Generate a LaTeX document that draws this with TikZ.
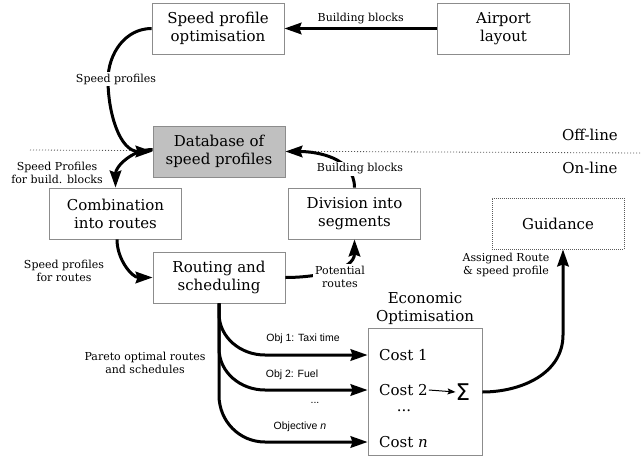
\documentclass[tikz,border=0pt]{standalone}
\usepackage{fontspec}
\setmainfont{DejaVu Serif}
\newfontfamily\labsans{Liberation Sans}
\newfontfamily\symfont{DejaVu Sans}
\usetikzlibrary{arrows.meta,calc}
\definecolor{boxgray}{RGB}{140,140,140}
\definecolor{dbfill}{RGB}{192,192,192}
\definecolor{dotgray}{RGB}{90,90,90}
\begin{document}
\begin{tikzpicture}[x=1pt,y=-1pt,
  main/.style={font=\fontsize{15}{18}\selectfont, align=center, inner sep=1pt},
  box/.style={main, draw=boxgray, line width=0.8pt, minimum width=132, minimum height=51, inner sep=0pt},
  flow/.style={line width=3pt, -{Stealth[length=17pt,width=11.5pt,inset=2pt]}},
  thinflow/.style={line width=1pt, -{Stealth[length=8pt,width=6pt,inset=1.5pt]}},
  lab/.style={font=\fontsize{11}{13}\selectfont, align=center, inner sep=1pt},
  gap/.style={lab, fill=white, inner sep=2pt},
  slab/.style={font=\labsans\fontsize{10.5}{12}\selectfont, inner sep=1pt}]
\useasboundingbox (0,0) rectangle (642,460);

% boundary between off-line and on-line parts
\draw[boxgray!60!black, line width=0.8pt, dash pattern=on 1pt off 2pt] (30,150) -- (642,153);
\node[main] (off) at (590,135) {Off-line};
\node[main] (on) at (590,168) {On-line};

% blocks
\node[box] (spo) at (218,28.5) {Speed profile\\optimisation};
\node[box] (air) at (503.5,28.5) {Airport\\layout};
\node[box, fill=dbfill] (db) at (219,151.5) {Database of\\speed profiles};
\node[box] (comb) at (115.5,213.5) {Combination\\into routes};
\node[box] (div) at (354.5,213.5) {Division into\\segments};
\node[box] (rs) at (219,277.5) {Routing and\\scheduling};
\node[box, draw=dotgray, dash pattern=on 1pt off 1pt] (guid) at (558,223.5) {Guidance};

% economic optimisation block
\node[box, minimum width=114, minimum height=127] (econ) at (425,391.5) {};
\node[main, anchor=south] (econlab) at (425,326) {Economic\\Optimisation};
\node[main, anchor=west] (c1) at (378,355) {Cost 1};
\node[main, anchor=west] (c2) at (378,390) {Cost 2};
\node[main] (cdots) at (404,411) {...};
\node[main, anchor=west] (cn) at (378,442) {Cost \textit{n}};
\node[font=\symfont\fontsize{23}{23}\selectfont, inner sep=0pt] (sig) at (463,392) {Σ};
\draw[thinflow] (c2.east) -- (sig.west);

% off-line flows
\draw[flow] (air) -- node[lab, above=2pt] {Building blocks} (spo);
\draw[flow] (spo.west) to[out=180,in=90] (108,80) to[out=-90,in=180] (db.west);
\node[gap] (lspeed) at (116,79) {Speed profiles};

% on-line flows
\draw[flow] ([yshift=2]db.west) to[out=180,in=90] (comb.north);
\node[lab] (lbuild) at (57,173) {Speed Profiles\\for build. blocks};
\draw[flow] ([xshift=1.5]comb.south) to[out=-90,in=180] (rs.west);
\node[lab] (lroutes) at (64,271) {Speed profiles\\for routes};
\draw[flow] (rs.east) to[out=0,in=-90] (div.south);
\node[gap] (lpot) at (340,277) {Potential\\routes};
\draw[flow] (div.north) to[out=90,in=0] (db.east);
\node[gap] (lblocks) at (360,169) {Building blocks};

% objectives from routing and scheduling
\draw[flow] (rs.south) -- ++(0,10) to[out=-90,in=180] (265,355) -- (econ.west |- c1);
\draw[flow] (rs.south) -- ++(0,45) to[out=-90,in=180] (265,390) -- (econ.west |- c2);
\draw[flow] (rs.south) -- ++(0,92) to[out=-90,in=180] (265,442) -- (econ.west |- cn);
\node[lab] (lpareto) at (145,363) {Pareto optimal routes\\and schedules};
\node[slab] (o1) at (303,339) {Obj 1: Taxi time};
\node[slab] (o2) at (292,375) {Obj 2: Fuel};
\node[slab] (odots) at (315,403) {...};
\node[slab] (on) at (300,427) {Objective \textit{n}};

% result to guidance
\draw[flow] (econ.east |- sig) to[out=0,in=-90] (563,335) -- ([xshift=5]guid.south);
\node[lab] (lassign) at (506,265) {Assigned Route\\\& speed profile};
\end{tikzpicture}
\end{document}
